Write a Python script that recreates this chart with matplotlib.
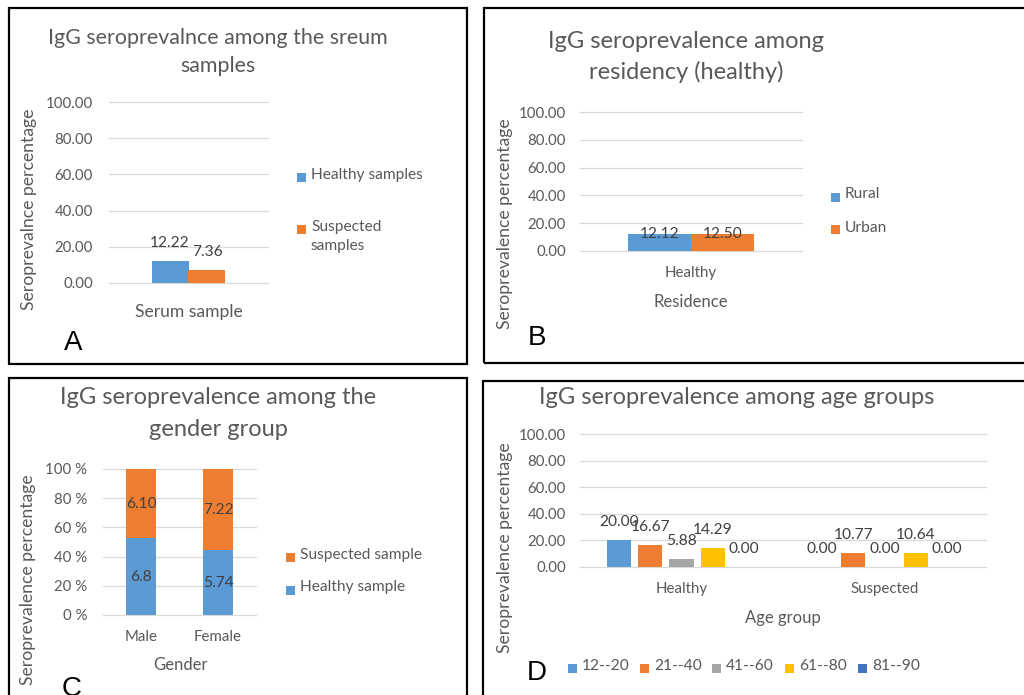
import matplotlib.pyplot as plt
from matplotlib.patches import Rectangle

W, H = 1024, 695
plt.rcParams['font.family'] = ['Lato', 'DejaVu Sans']

BLUE = '#5B9BD5'
ORANGE = '#ED7D31'
GREY = '#A5A5A5'
GOLD = '#FFC000'
NAVY = '#4472C4'
TXT = '#595959'
LBL = '#404040'
GRID = '#D9D9D9'

# A: serum samples
serum_cats = ['Serum sample']
serum_healthy = [12.22]
serum_suspected = [7.36]

# B: residency (healthy)
res_cats = ['Healthy']
res_rural = [12.12]
res_urban = [12.50]

# C: gender (100% stacked)
gender_cats = ['Male', 'Female']
gender_healthy = ['6.8', '5.74']
gender_suspected = ['6.10', '7.22']

# D: age groups
age_cats = ['Healthy', 'Suspected']
age_groups = ['12--20', '21--40', '41--60', '61--80', '81--90']
age_12_20 = [20.00, 0.00]
age_21_40 = [16.67, 10.77]
age_41_60 = [5.88, 0.00]
age_61_80 = [14.29, 10.64]
age_81_90 = [0.00, 0.00]
age_series = [age_12_20, age_21_40, age_41_60, age_61_80, age_81_90]
age_colors = [BLUE, ORANGE, GREY, GOLD, NAVY]

fig = plt.figure(figsize=(W / 100, H / 100), dpi=100)


def px_axes(x0, y0, x1, y1):
    return fig.add_axes([x0 / W, 1 - y1 / H, (x1 - x0) / W, (y1 - y0) / H])


def ftext(x, y, s, **kw):
    kw.setdefault('color', TXT)
    return fig.text(x / W, 1 - y / H, s, **kw)


def frame(x0, y0, x1, y1):
    fig.add_artist(Rectangle((x0 / W, 1 - y1 / H), (x1 - x0) / W, (y1 - y0) / H,
                             transform=fig.transFigure, fill=False,
                             ec='black', lw=1.6))


def legend_item(x, y, color, label):
    fig.add_artist(Rectangle((x / W, 1 - (y + 4.5) / H), 9 / W, 9 / H,
                             transform=fig.transFigure, fc=color, ec='none'))
    ftext(x + 14, y - 9.5, label, fontsize=11.2, va='top', linespacing=1.4)


def style(ax, ticks, labels, ypad, xpad, xsize=10.8):
    ax.set_ylim(ticks[0], ticks[-1])
    ax.set_yticks(ticks)
    ax.set_yticklabels(labels)
    ax.grid(axis='y', color=GRID, lw=0.9)
    for g in ax.get_ygridlines():
        g.set_clip_on(False)
    ax.set_axisbelow(True)
    for s in ax.spines.values():
        s.set_visible(False)
    ax.tick_params(axis='y', length=0, colors=TXT, labelsize=10.8, pad=ypad)
    ax.tick_params(axis='x', length=0, colors=TXT, labelsize=xsize, pad=xpad)
    ax.patch.set_alpha(0)


def bar_label(ax, x, v, dy):
    ax.annotate(f'{v:.2f}', (x, v), xytext=(0, dy), textcoords='offset points',
                ha='center', va='center', fontsize=11.2, color=LBL)


pct_ticks = [0, 20, 40, 60, 80, 100]
pct_labels = [f'{t:.2f}' for t in pct_ticks]

# ---- A ----
frame(9, 8, 467, 364)
ax = px_axes(109, 102, 268, 283)
ax.bar([-0.116], serum_healthy, 0.233, color=BLUE)
ax.bar([0.116], serum_suspected, 0.233, color=ORANGE)
ax.set_xlim(-0.5, 0.5)
ax.set_xticks([0])
ax.set_xticklabels(serum_cats)
style(ax, pct_ticks, pct_labels, 11.5, 15, xsize=12.6)
bar_label(ax, -0.116, serum_healthy[0], 13)
bar_label(ax, 0.116, serum_suspected[0], 13)
ftext(218, 51.5, 'IgG seroprevalnce among the sreum\nsamples', fontsize=15.4,
      ha='center', va='center', linespacing=1.5)
ftext(29, 209, 'Seroprevalnce percentage', fontsize=12.7, rotation=90,
      ha='center', va='center')
legend_item(297, 177, BLUE, 'Healthy samples')
legend_item(297, 230, ORANGE, 'Suspected\nsamples')
ftext(73, 343, 'A', fontsize=20, color='black', family='Liberation Sans',
      ha='center', va='center')

# ---- B ----
frame(484, 8, 1030, 363)
ax = px_axes(580, 112, 802, 251)
ax.bar([-0.142], res_rural, 0.284, color=BLUE)
ax.bar([0.142], res_urban, 0.284, color=ORANGE)
ax.set_xlim(-0.5, 0.5)
ax.set_xticks([0])
ax.set_xticklabels(res_cats)
style(ax, pct_ticks, pct_labels, 10, 11)
bar_label(ax, -0.142, res_rural[0], 0)
bar_label(ax, 0.142, res_urban[0], 0)
ftext(686, 57, 'IgG seroprevalence among\nresidency (healthy)', fontsize=17,
      ha='center', va='center', linespacing=1.45)
ftext(505, 224, 'Seroprevalence percentage', fontsize=12.7, rotation=90,
      ha='center', va='center')
ftext(691, 302, 'Residence', fontsize=12, ha='center', va='center')
legend_item(831, 197, BLUE, 'Rural')
legend_item(831, 230, ORANGE, 'Urban')
ftext(537, 338, 'B', fontsize=20, color='black', family='Liberation Sans',
      ha='center', va='center')

# ---- C ----
frame(9, 378, 467, 700)
ax = px_axes(103, 469, 256, 615)
healthy_v = [float(s) for s in gender_healthy]
suspected_v = [float(s) for s in gender_suspected]
totals = [h + s for h, s in zip(healthy_v, suspected_v)]
healthy_pct = [100 * h / t for h, t in zip(healthy_v, totals)]
suspected_pct = [100 * s / t for s, t in zip(suspected_v, totals)]
xs = list(range(len(gender_cats)))
ax.bar(xs, healthy_pct, 0.39, color=BLUE)
ax.bar(xs, suspected_pct, 0.39, bottom=healthy_pct, color=ORANGE)
for i in xs:
    ax.text(i, healthy_pct[i] / 2, gender_healthy[i], ha='center', va='center',
            fontsize=11.2, color=LBL)
    ax.text(i, healthy_pct[i] + suspected_pct[i] / 2, gender_suspected[i],
            ha='center', va='center', fontsize=11.2, color=LBL)
ax.set_xlim(-0.494, 1.494)
ax.set_xticks(xs)
ax.set_xticklabels(gender_cats)
style(ax, pct_ticks, [f'{t} %' for t in pct_ticks], 11.5, 11)
ftext(218, 413.5, 'IgG seroprevalence among the\ngender group', fontsize=17,
      ha='center', va='center', linespacing=1.6)
ftext(28, 580, 'Seroprevalence percentage', fontsize=12.7, rotation=90,
      ha='center', va='center')
ftext(180, 665, 'Gender', fontsize=12, ha='center', va='center')
legend_item(286, 557, ORANGE, 'Suspected sample')
legend_item(286, 590, BLUE, 'Healthy sample')
ftext(72, 689, 'C', fontsize=20, color='black', family='Liberation Sans',
      ha='center', va='center')

# ---- D ----
frame(483, 381, 1030, 700)
ax = px_axes(580, 434, 986, 567)
pitch, width = 0.154, 0.12
for k, (vals, col) in enumerate(zip(age_series, age_colors)):
    pos = [c + (k - 2) * pitch for c in range(len(age_cats))]
    ax.bar(pos, vals, width, color=col)
    for p, v in zip(pos, vals):
        bar_label(ax, p, v, 13)
ax.set_xlim(-0.5, 1.5)
ax.set_xticks(range(len(age_cats)))
ax.set_xticklabels(age_cats)
style(ax, pct_ticks, pct_labels, 10, 10.5)
ftext(737, 397, 'IgG seroprevalence among age groups', fontsize=17,
      ha='center', va='center')
ftext(505, 548, 'Seroprevalence percentage', fontsize=12.7, rotation=90,
      ha='center', va='center')
ftext(783, 618, 'Age group', fontsize=12, ha='center', va='center')
for xk, name, col in zip([568, 640, 712, 785, 858], age_groups, age_colors):
    legend_item(xk, 668, col, name)
ftext(537, 673, 'D', fontsize=20, color='black', family='Liberation Sans',
      ha='center', va='center')

fig.savefig('out.png', dpi=100)
